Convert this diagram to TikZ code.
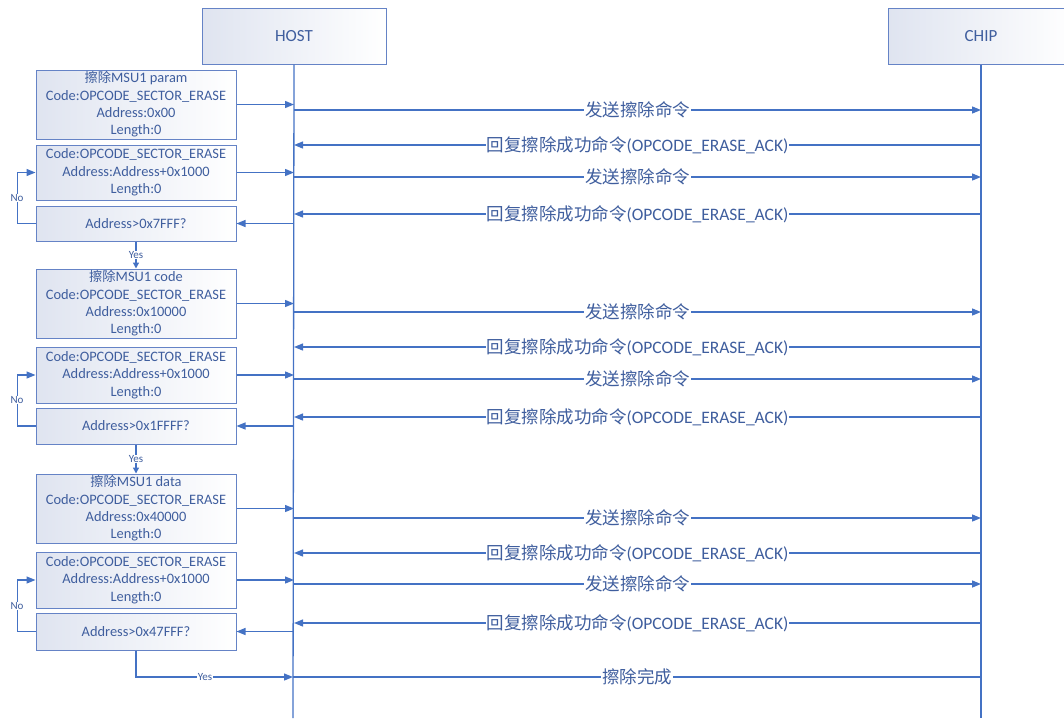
\documentclass[tikz,border=0pt]{standalone}
\usepackage{fontspec}
\setmainfont{Carlito}
\newfontfamily\cjk[Scale=0.92]{Noto Sans CJK SC}
\newfontfamily\cjkm[Scale=1.0]{Noto Sans CJK SC}
\newcommand{\zh}[1]{{\cjk #1}}
\newcommand{\zhm}[1]{{\cjkm #1}}
\usetikzlibrary{arrows.meta,calc}
\definecolor{lineblue}{HTML}{4472C4}
\definecolor{txtblue}{HTML}{3F5E9E}
\definecolor{boxedge}{HTML}{6583C6}
\definecolor{boxshade}{HTML}{DFE4F0}
\tikzset{
  every node/.style={text=txtblue},
  box/.style={draw=boxedge, line width=1pt, left color=boxshade, right color=white,
    minimum width=200pt, align=center, inner sep=0pt,
    font=\fontsize{14.4}{17.4}\selectfont},
  head/.style={box, font=\fontsize{17}{20}\selectfont},
  conn/.style={draw=lineblue, line width=1.3pt},
  arr/.style={conn, -{Triangle[length=9pt,width=7pt]}},
  sarr/.style={conn, -{Triangle[length=6pt,width=6pt]}},
  msg/.style={fill=white, inner sep=1pt, font=\fontsize{17.5}{20}\selectfont},
  small/.style={fill=white, inner sep=0.5pt, font=\fontsize{11}{13}\selectfont},
}
\begin{document}
\begin{tikzpicture}[x=1pt,y=-1pt]
\useasboundingbox (0,0) rectangle (1064,718);
% headers
\node[head, minimum width=184pt, minimum height=56pt] (host) at (294,36) {HOST};
\node[head, minimum width=186pt, minimum height=56pt] (chip) at (981,36) {CHIP};
\coordinate (hostend) at (293,718);
\coordinate (chipend) at (981,718);
\draw[conn] (host.south) -- (hostend);
\draw[conn] (chip.south) -- (chipend);

% left boxes
\node[box, minimum height=69pt] (b1) at (136,104.5) {\zh{擦除}MSU1 param\\Code:OPCODE\_SECTOR\_ERASE\\Address:0x00\\Length:0};
\node[box, minimum height=55pt] (b2) at (136,172.5) {Code:OPCODE\_SECTOR\_ERASE\\Address:Address+0x1000\\Length:0};
\node[box, minimum height=35pt] (d1) at (136,223.5) {Address>0x7FFF?};
\node[box, minimum height=69pt] (b3) at (136,303.5) {\zh{擦除}MSU1 code\\Code:OPCODE\_SECTOR\_ERASE\\Address:0x10000\\Length:0};
\node[box, minimum height=56pt] (b4) at (136,375) {Code:OPCODE\_SECTOR\_ERASE\\Address:Address+0x1000\\Length:0};
\node[box, minimum height=36pt] (d2) at (136,426) {Address>0x1FFFF?};
\node[box, minimum height=69pt] (b5) at (136,508.5) {\zh{擦除}MSU1 data\\Code:OPCODE\_SECTOR\_ERASE\\Address:0x40000\\Length:0};
\node[box, minimum height=56pt] (b6) at (136,580) {Code:OPCODE\_SECTOR\_ERASE\\Address:Address+0x1000\\Length:0};
\node[box, minimum height=37pt] (d3) at (136,631.5) {Address>0x47FFF?};

% box -> host
\foreach \b in {b1,b2,b3,b4,b5,b6}{
  \draw[arr] (\b.east) -- (\b.east -| host);
}
% host -> decision
\foreach \d in {d1,d2,d3}{
  \draw[arr] (\d.east -| host) -- (\d.east);
}

% No loops
\draw[arr] (d1.west) -- ++(-18,0) |- (b2.west);
\node[small] (no1) at (17,198) {No};
\draw[arr] (d2.west) -- ++(-18,0) |- (b4.west);
\node[small] (no2) at (17,400) {No};
\draw[arr] (d3.west) -- ++(-18,0) |- (b6.west);
\node[small] (no3) at (17,606) {No};

% Yes links
\draw[sarr] (d1.south) -- (b3.north) node[small, midway] {Yes};
\draw[sarr] (d2.south) -- (b5.north) node[small, midway] {Yes};
\coordinate (done) at (293,677);
\draw[arr] (d3.south) |- (done) node[small, pos=0.72] {Yes};

% messages
\foreach \y in {110,177,312,379,518,584}{
  \draw[arr] (host |- 0,\y) -- (chip |- 0,\y) node[msg, midway] {\zhm{发送擦除命令}};
}
\foreach \y in {145,214,347,417,553,623}{
  \draw[arr] (chip |- 0,\y) -- (host |- 0,\y) node[msg, midway] {\zhm{回复擦除成功命令}(OPCODE\_ERASE\_ACK)};
}
\draw[conn] (done) -- (chip |- done) node[msg, midway] {\zhm{擦除完成}};
\end{tikzpicture}
\end{document}
